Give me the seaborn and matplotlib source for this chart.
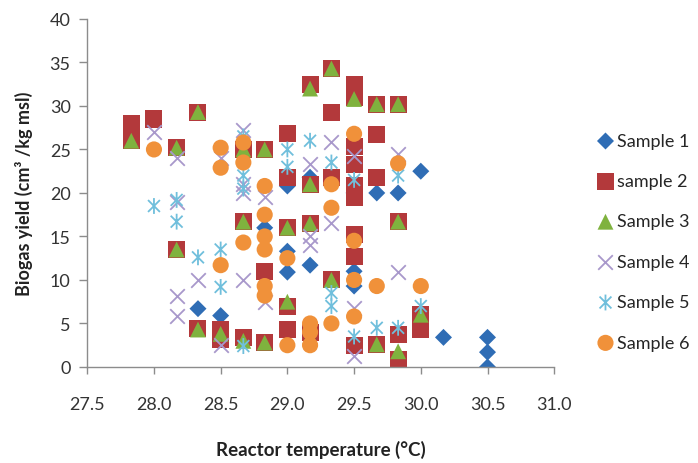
import numpy as np
import pandas as pd
import matplotlib.pyplot as plt
from matplotlib.path import Path
import seaborn as sns

sns.set_style("ticks")
plt.rcParams["font.family"] = ["Lato", "DejaVu Sans"]


# DATA: reactor temperature (deg C) and biogas yield for each sample

s1_temp = [28.33, 28.5, 28.83, 29.0, 29.0, 29.0, 29.17, 29.17, 29.5, 29.5, 29.5,
           29.67, 29.83, 30.0, 30.17, 30.5, 30.5, 30.5]
s1_yield = [6.7, 5.9, 16.0, 20.8, 13.3, 10.9, 21.8, 11.7, 20.0, 11.0, 9.3,
            20.0, 20.0, 22.5, 3.4, 3.4, 1.7, 0.0]

s2_temp = [27.83, 27.83, 28.0, 28.17, 28.17, 28.33, 28.33, 28.5, 28.5,
           28.67, 28.67, 28.67, 28.83, 28.83, 28.83,
           29.0, 29.0, 29.0, 29.0, 29.0, 29.17, 29.17, 29.17, 29.17,
           29.33, 29.33, 29.33, 29.33,
           29.5, 29.5, 29.5, 29.5, 29.5, 29.5, 29.5, 29.5, 29.5,
           29.67, 29.67, 29.67, 29.67, 29.83, 29.83, 29.83, 29.83, 30.0, 30.0]
s2_yield = [28.0, 26.0, 28.5, 25.2, 13.5, 29.3, 4.4, 4.3, 3.2,
            25.0, 16.7, 3.4, 25.0, 11.0, 2.8,
            26.8, 21.8, 16.0, 7.0, 4.3, 32.5, 21.0, 16.5, 4.0,
            34.3, 29.3, 21.8, 10.0,
            32.5, 31.0, 25.3, 23.3, 20.8, 19.5, 15.2, 12.7, 2.5,
            30.2, 26.7, 21.8, 2.6, 30.2, 16.7, 3.7, 0.8, 6.0, 4.3]

s3_temp = [27.83, 28.17, 28.17, 28.33, 28.33, 28.5, 28.67, 28.67, 28.67,
           28.83, 28.83, 29.0, 29.0, 29.17, 29.17, 29.17, 29.17, 29.33, 29.33,
           29.5, 29.67, 29.67, 29.83, 29.83, 29.83, 30.0]
s3_yield = [26.0, 25.2, 13.5, 29.3, 4.3, 3.8, 25.0, 16.7, 3.0,
            25.0, 2.8, 16.0, 7.5, 32.0, 21.0, 16.5, 3.5, 34.3, 10.0,
            30.8, 30.2, 2.6, 30.2, 16.7, 1.8, 6.0]

s4_temp = [28.0, 28.17, 28.17, 28.17, 28.17, 28.33, 28.5, 28.5,
           28.67, 28.67, 28.67, 28.67, 28.83, 28.83, 29.17, 29.17, 29.17,
           29.33, 29.33, 29.5, 29.5, 29.5, 29.83, 29.83]
s4_yield = [27.0, 24.0, 19.0, 8.2, 5.8, 10.0, 24.0, 2.5,
            27.2, 21.0, 20.0, 10.0, 19.5, 7.5, 23.3, 15.0, 14.0,
            25.8, 16.5, 24.2, 6.8, 1.3, 24.5, 10.9]

s5_temp = [28.0, 28.17, 28.17, 28.33, 28.5, 28.5, 28.67, 28.67, 28.67, 28.67,
           29.0, 29.0, 29.17, 29.33, 29.33, 29.33, 29.5, 29.5, 29.67,
           29.83, 29.83, 30.0]
s5_yield = [18.5, 19.2, 16.7, 12.6, 13.5, 9.2, 26.5, 22.0, 20.5, 2.4,
            25.0, 23.0, 26.0, 23.5, 8.5, 7.0, 21.5, 3.5, 4.5,
            22.0, 4.5, 7.0]

s6_temp = [28.0, 28.5, 28.5, 28.5, 28.67, 28.67, 28.67,
           28.83, 28.83, 28.83, 28.83, 28.83, 28.83, 29.0, 29.0,
           29.17, 29.17, 29.17, 29.33, 29.33, 29.33,
           29.5, 29.5, 29.5, 29.5, 29.67, 29.83, 30.0]
s6_yield = [25.0, 25.2, 22.9, 11.7, 25.8, 23.5, 14.3,
            20.8, 17.5, 15.0, 13.5, 9.3, 8.2, 12.5, 2.5,
            5.0, 4.0, 2.5, 21.0, 18.3, 5.0,
            26.8, 14.5, 10.0, 5.8, 9.3, 23.4, 9.3]

sample_names = ["Sample 1", "sample 2", "Sample 3", "Sample 4", "Sample 5", "Sample 6"]
x_ticks = [27.5, 28.0, 28.5, 29.0, 29.5, 30.0, 30.5, 31.0]
y_ticks = [0, 5, 10, 15, 20, 25, 30, 35, 40]


# Excel-like asterisk marker: an X with a vertical bar
asterisk = Path(
    [(0, -1), (0, 1), (-0.75, -0.75), (0.75, 0.75), (-0.75, 0.75), (0.75, -0.75)],
    [Path.MOVETO, Path.LINETO] * 3,
)

styles = {
    "Sample 1": dict(marker="D", color="#2f6db5", s=75),
    "sample 2": dict(marker="s", color="#b3393b", s=150),
    "Sample 3": dict(marker="^", color="#7fb23e", s=130),
    "Sample 4": dict(marker="x", color="#a898cb", s=110),
    "Sample 5": dict(marker=asterisk, color="#70bfdc", s=130),
    "Sample 6": dict(marker="o", color="#f0913a", s=135),
}

temps = [s1_temp, s2_temp, s3_temp, s4_temp, s5_temp, s6_temp]
yields = [s1_yield, s2_yield, s3_yield, s4_yield, s5_yield, s6_yield]
df = pd.concat(
    [pd.DataFrame({"temp": t, "yield": y, "sample": n})
     for t, y, n in zip(temps, yields, sample_names)],
    ignore_index=True,
)


fig, ax = plt.subplots(figsize=(6.98, 4.64), dpi=100)
fig.subplots_adjust(left=0.125, right=0.794, top=0.957, bottom=0.207)

for name in sample_names:
    st = styles[name]
    sub = df[df["sample"] == name]
    if st["marker"] == "x":
        # unfilled marker, drawn with its line colour
        sns.scatterplot(data=sub, x="temp", y="yield", marker="x", color=st["color"],
                        s=st["s"], linewidth=1.3, label=name, ax=ax)
    elif st["marker"] is asterisk:
        sns.scatterplot(data=sub, x="temp", y="yield", marker=asterisk,
                        edgecolor=st["color"], facecolor="none", s=st["s"],
                        linewidth=1.3, label=name, ax=ax)
    else:
        sns.scatterplot(data=sub, x="temp", y="yield", marker=st["marker"],
                        color=st["color"], edgecolor="none", s=st["s"],
                        label=name, ax=ax)

ax.set_xlim(27.5, 31.0)
ax.set_ylim(0, 40)
ax.set_xticks(x_ticks)
ax.set_xticklabels([f"{v:.1f}" for v in x_ticks])
ax.set_yticks(y_ticks)

for side in ["top", "right"]:
    ax.spines[side].set_visible(False)
for side in ["left", "bottom"]:
    ax.spines[side].set_color("#8c8c8c")
    ax.spines[side].set_linewidth(1.0)
ax.tick_params(axis="both", colors="#8c8c8c", labelcolor="#333333", labelsize=13, width=1.0)
ax.tick_params(axis="y", length=6, pad=6)
ax.tick_params(axis="x", length=5, pad=16)

ax.set_xlabel("Reactor temperature (\u00b0C)", fontsize=13.5, fontweight="bold",
              color="#222222", labelpad=20)
ax.set_ylabel("Biogas yield (cm\u00b3 /kg msl)", fontsize=13, fontweight="bold",
              color="#222222", labelpad=12)

ax.legend(loc="center left", bbox_to_anchor=(1.075, 0.36), frameon=False,
          fontsize=13, labelspacing=1.35, handlelength=1.0, handletextpad=0.15,
          borderaxespad=0)

plt.savefig("out.png", dpi=100)
plt.close()
